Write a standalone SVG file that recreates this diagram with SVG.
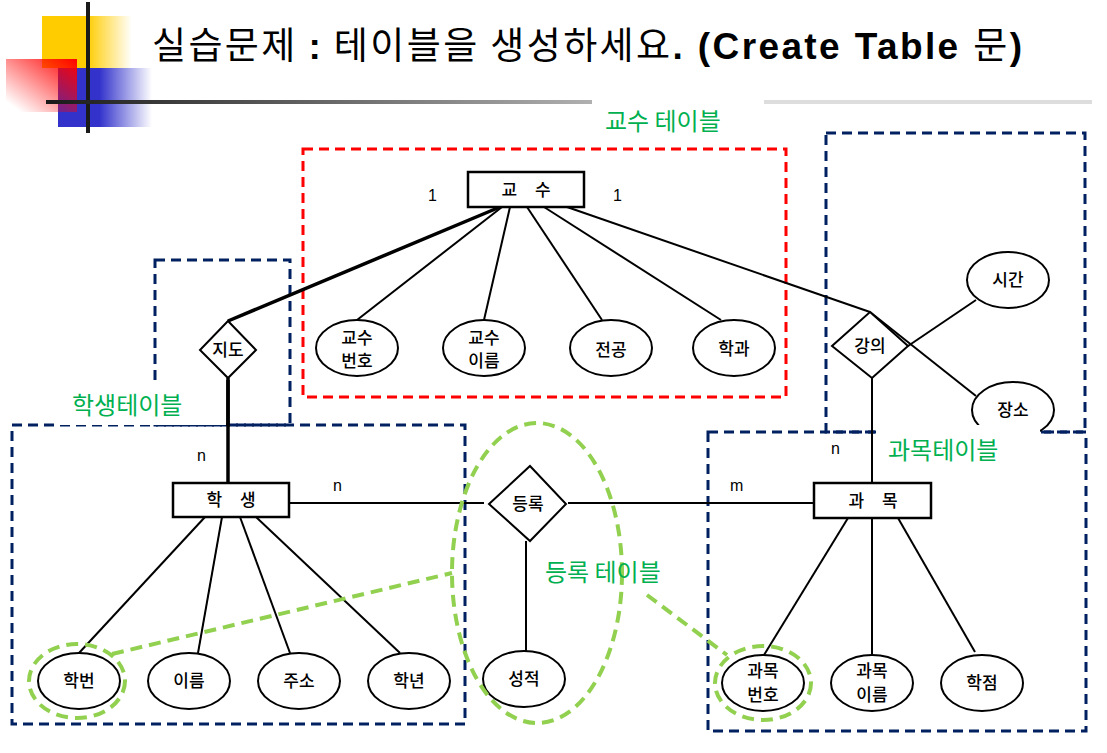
<svg xmlns="http://www.w3.org/2000/svg" width="1107" height="753" viewBox="0 0 1107 753">
<defs>
<linearGradient id="gy" x1="0" y1="0" x2="1" y2="0"><stop offset="0.5" stop-color="#ffcc00"/><stop offset="1" stop-color="#ffcc00" stop-opacity="0"/></linearGradient>
<linearGradient id="gb" x1="0" y1="0" x2="1" y2="0"><stop offset="0.3" stop-color="#3333cc"/><stop offset="1" stop-color="#3333cc" stop-opacity="0"/></linearGradient>
<linearGradient id="gr" x1="1" y1="0" x2="0" y2="1"><stop offset="0" stop-color="#ff0000"/><stop offset="0.9" stop-color="#ff0000" stop-opacity="0"/></linearGradient>
<linearGradient id="gl" gradientUnits="userSpaceOnUse" x1="46" y1="0" x2="592" y2="0"><stop offset="0" stop-color="#1a1a1a"/><stop offset="1" stop-color="#b0b0b0"/></linearGradient>
</defs>
<style>
.kr{font-family:"Noto Sans CJK KR","Liberation Sans",sans-serif}
.at{font-family:"Noto Sans CJK KR",sans-serif;font-size:17px;font-weight:500;text-anchor:middle;fill:#000}
.en{font-family:"Liberation Sans",Arial,sans-serif;font-size:16px;fill:#000}
.lbl{font-family:"Noto Sans CJK KR",sans-serif;font-size:24px;fill:#00b050}
.ent{fill:#fff;stroke:#000;stroke-width:2.5}
.ell{fill:#fff;stroke:#000;stroke-width:2}
.dia{fill:#fff;stroke:#000;stroke-width:2}
.ln{stroke:#000;stroke-width:2;fill:none}
.thick{stroke:#000;stroke-width:3.5;fill:none}
.blue{fill:none;stroke:#002060;stroke-width:3;stroke-dasharray:10 6}
.red{fill:none;stroke:#ff0000;stroke-width:3;stroke-dasharray:10 6}
.grn{fill:none;stroke:#92d050;stroke-width:4;stroke-dasharray:12 7}
.b{font-weight:bold;font-family:"Liberation Sans",sans-serif}
</style>
<rect width="1107" height="753" fill="#fff"/>
<g id="decor">
<rect x="42" y="16" width="90" height="52" fill="url(#gy)"/>
<rect x="77" y="68" width="75" height="59" fill="url(#gb)"/>
<rect x="58" y="68" width="20" height="59" fill="#3333cc"/>
<rect x="6" y="59" width="71" height="53" fill="url(#gr)"/>
<line x1="88" y1="2" x2="88" y2="133" stroke="#1a1a1a" stroke-width="4"/>
<line x1="46" y1="102" x2="592" y2="102" stroke="url(#gl)" stroke-width="4"/>
<line x1="764" y1="102" x2="1092" y2="102" stroke="#dddddd" stroke-width="4"/>
</g>
<text x="152" y="59" class="kr" font-size="37" fill="#000" textLength="870" lengthAdjust="spacing">실습문제 <tspan class="b">:</tspan> 테이블을 생성하세요<tspan class="b">. (Create Table </tspan>문<tspan class="b">)</tspan></text>
<g id="tables">
<rect id="t-professor" class="red" x="303" y="149" width="483" height="248"/>
<rect id="t-advise" class="blue" x="155" y="260" width="135" height="165"/>
<rect id="t-student" class="blue" x="12" y="425" width="453" height="299"/>
<rect id="t-lecture" class="blue" x="826" y="133" width="259" height="299"/>
<rect id="t-course" class="blue" x="708" y="432" width="378" height="299"/>
</g>
<g id="connectors">
<line class="ln" x1="567" y1="207" x2="870" y2="312"/>
<line class="thick" x1="500" y1="207" x2="228" y2="321"/>
<line class="thick" x1="228" y1="378" x2="228" y2="483"/>
<line class="ln" x1="502" y1="207" x2="357" y2="320"/>
<line class="ln" x1="510" y1="207" x2="484" y2="320"/>
<line class="ln" x1="527" y1="207" x2="602" y2="320"/>
<line class="ln" x1="544" y1="207" x2="721" y2="320"/>
<line class="ln" x1="870" y1="312" x2="976" y2="396"/>
<line class="ln" x1="908" y1="346" x2="976" y2="300"/>
<line class="ln" x1="872" y1="378" x2="872" y2="483"/>
<line class="ln" x1="289" y1="503" x2="484" y2="503"/>
<line class="ln" x1="568" y1="503" x2="815" y2="503"/>
<line class="ln" x1="526" y1="541" x2="526" y2="651"/>
<line class="ln" x1="205" y1="517" x2="79" y2="653"/>
<line class="ln" x1="222" y1="517" x2="198" y2="653"/>
<line class="ln" x1="240" y1="517" x2="290" y2="653"/>
<line class="ln" x1="256" y1="517" x2="400" y2="653"/>
<line class="ln" x1="848" y1="518" x2="764" y2="655"/>
<line class="ln" x1="872" y1="518" x2="872" y2="655"/>
<line class="ln" x1="898" y1="518" x2="975" y2="652"/>
</g>
<g id="n-professor"><rect class="ent" x="468" y="172" width="116" height="35"/><text class="at" x="526" y="196" font-weight="bold" word-spacing="14">교 수</text></g>
<g id="n-advise"><polygon class="dia" points="228,321 256,350 228,378 200,350"/><text class="at" x="228" y="356" font-weight="400">지도</text></g>
<g id="n-profno"><ellipse class="ell" cx="357" cy="348" rx="41" ry="28"/><text class="at" x="357" y="344">교수</text><text class="at" x="357" y="367">번호</text></g>
<g id="n-profname"><ellipse class="ell" cx="484" cy="348" rx="41" ry="28"/><text class="at" x="484" y="344">교수</text><text class="at" x="484" y="367">이름</text></g>
<g id="n-major"><ellipse class="ell" cx="611" cy="348" rx="41" ry="28"/><text class="at" x="611" y="356">전공</text></g>
<g id="n-dept"><ellipse class="ell" cx="734" cy="348" rx="41" ry="28"/><text class="at" x="734" y="355">학과</text></g>
<g id="n-lecture"><polygon class="dia" points="870,312 908,346 872,378 832,346"/><text class="at" x="870" y="352">강의</text></g>
<g id="n-time"><ellipse class="ell" cx="1008" cy="280" rx="41" ry="28"/><text class="at" x="1008" y="286">시간</text></g>
<g id="n-place"><ellipse class="ell" cx="1013" cy="410" rx="41" ry="28"/><text class="at" x="1013" y="416">장소</text></g>
<g id="n-student"><rect class="ent" x="173" y="483" width="116" height="34"/><text class="at" x="231" y="506" font-weight="bold" word-spacing="14">학 생</text></g>
<g id="n-enroll"><polygon class="dia" points="530,466 566,504 530,541 489,504"/><text class="at" x="528" y="510">등록</text></g>
<g id="n-grade"><ellipse class="ell" cx="524" cy="679" rx="41" ry="28"/><text class="at" x="524" y="685">성적</text></g>
<g id="n-course"><rect class="ent" x="814" y="483" width="117" height="35"/><text class="at" x="873" y="507" font-weight="bold" word-spacing="14">과 목</text></g>
<g id="n-stno"><ellipse class="ell" cx="79" cy="681" rx="41" ry="28"/><text class="at" x="79" y="687">학번</text></g>
<g id="n-stname"><ellipse class="ell" cx="189" cy="681" rx="41" ry="28"/><text class="at" x="189" y="687">이름</text></g>
<g id="n-addr"><ellipse class="ell" cx="299" cy="681" rx="41" ry="28"/><text class="at" x="299" y="687">주소</text></g>
<g id="n-year"><ellipse class="ell" cx="409" cy="681" rx="41" ry="28"/><text class="at" x="409" y="687">학년</text></g>
<g id="n-courseno"><ellipse class="ell" cx="763" cy="683" rx="41" ry="28"/><text class="at" x="763" y="677">과목</text><text class="at" x="763" y="701">번호</text></g>
<g id="n-coursename"><ellipse class="ell" cx="872" cy="683" rx="41" ry="28"/><text class="at" x="872" y="677">과목</text><text class="at" x="872" y="701">이름</text></g>
<g id="n-credit"><ellipse class="ell" cx="982" cy="683" rx="41" ry="28"/><text class="at" x="982" y="689">학점</text></g>
<g id="cardinality">
<text class="en" x="428" y="201">1</text>
<text class="en" x="613" y="201">1</text>
<text class="en" x="197" y="461">n</text>
<text class="en" x="333" y="491">n</text>
<text class="en" x="831" y="454">n</text>
<text class="en" x="730" y="491">m</text>
</g>
<g id="highlights">
<ellipse class="grn" cx="77" cy="681" rx="48" ry="37"/>
<ellipse class="grn" cx="537" cy="573" rx="85" ry="150"/>
<ellipse class="grn" cx="763" cy="683" rx="48" ry="37"/>
<line class="grn" x1="112" y1="654" x2="452" y2="573"/>
<line class="grn" x1="647" y1="595" x2="727" y2="655"/>
</g>
<g id="labels">
<rect x="60" y="380" width="166" height="45" fill="#fff"/>
<line class="thick" x1="228" y1="380" x2="228" y2="426"/>
<text class="lbl" x="72" y="414">학생테이블</text>
<rect x="876" y="425" width="164" height="42" fill="#fff"/>
<text class="lbl" x="888" y="459">과목테이블</text>
<text class="lbl" x="605" y="130">교수 테이블</text>
<text class="lbl" x="545" y="581">등록 테이블</text>
</g>
</svg>
